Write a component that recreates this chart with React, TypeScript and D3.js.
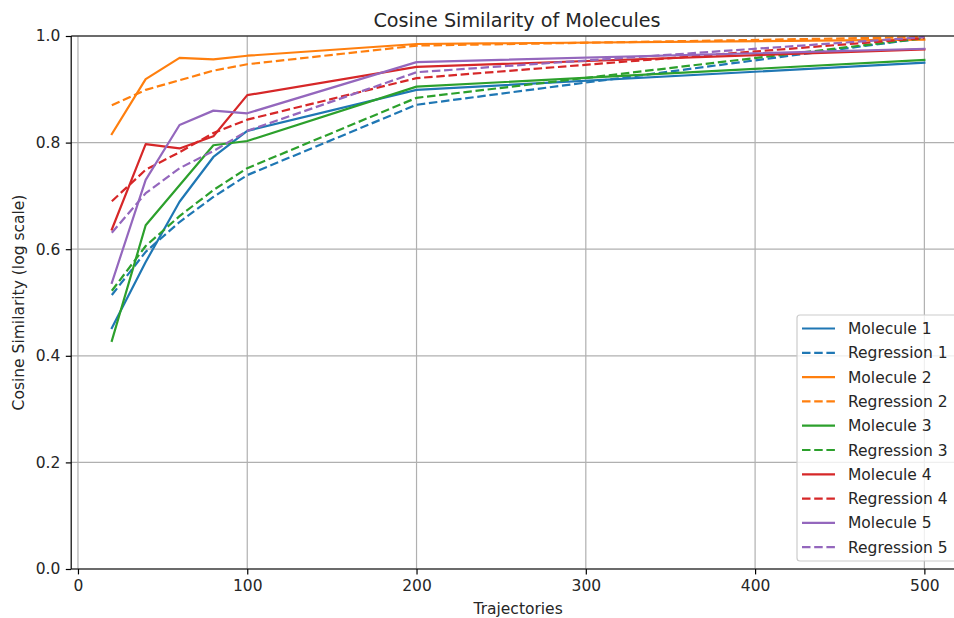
import React, { useRef, useEffect } from 'react';
import * as d3 from 'd3';

// number of trajectories (x) and the similarity values
const trajectories = [20, 40, 60, 80, 100, 200, 500];

const molecule1 = [0.452, 0.576, 0.689, 0.773, 0.822, 0.899, 0.950];
const regression1 = [0.514, 0.595, 0.651, 0.698, 0.739, 0.871, 0.996];
const molecule2 = [0.816, 0.919, 0.959, 0.956, 0.963, 0.985, 0.993];
const regression2 = [0.870, 0.899, 0.917, 0.935, 0.947, 0.982, 0.998];
const molecule3 = [0.428, 0.645, 0.720, 0.795, 0.803, 0.905, 0.955];
const regression3 = [0.522, 0.606, 0.662, 0.711, 0.752, 0.884, 0.996];
const molecule4 = [0.637, 0.797, 0.789, 0.812, 0.889, 0.942, 0.975];
const regression4 = [0.690, 0.749, 0.782, 0.818, 0.843, 0.921, 0.996];
const molecule5 = [0.537, 0.730, 0.833, 0.860, 0.855, 0.951, 0.976];
const regression5 = [0.631, 0.705, 0.752, 0.784, 0.822, 0.932, 0.998];

const xTicks = [0, 100, 200, 300, 400, 500];
const yTicks = [0.0, 0.2, 0.4, 0.6, 0.8, 1.0];

const colors = ['#1f77b4', '#ff7f0e', '#2ca02c', '#d62728', '#9467bd'];

const series = [
  { name: 'Molecule 1', values: molecule1, color: colors[0], dashed: false },
  { name: 'Regression 1', values: regression1, color: colors[0], dashed: true },
  { name: 'Molecule 2', values: molecule2, color: colors[1], dashed: false },
  { name: 'Regression 2', values: regression2, color: colors[1], dashed: true },
  { name: 'Molecule 3', values: molecule3, color: colors[2], dashed: false },
  { name: 'Regression 3', values: regression3, color: colors[2], dashed: true },
  { name: 'Molecule 4', values: molecule4, color: colors[3], dashed: false },
  { name: 'Regression 4', values: regression4, color: colors[3], dashed: true },
  { name: 'Molecule 5', values: molecule5, color: colors[4], dashed: false },
  { name: 'Regression 5', values: regression5, color: colors[4], dashed: true },
];

const App = () => {
  const ref = useRef<SVGSVGElement>(null);

  useEffect(() => {
    const width = 954;
    const height = 618;
    const left = 71.2, right = 965, top = 36, bottom = 569;
    const font = 'DejaVu Sans, sans-serif';
    const fs = 15.5;

    const svg = d3.select(ref.current);
    svg.selectAll('*').remove();
    svg.attr('width', width).attr('height', height);

    const x = d3.scaleLinear().domain([-4, 524]).range([left, right]);
    const y = d3.scaleLinear().domain([0, 1]).range([bottom, top]);

    svg.append('rect').attr('width', width).attr('height', height).attr('fill', 'white');

    svg.append('defs').append('clipPath').attr('id', 'plot')
      .append('rect')
      .attr('x', left).attr('y', top)
      .attr('width', right - left).attr('height', bottom - top);

    // grid
    const grid = svg.append('g').attr('stroke', '#b0b0b0').attr('stroke-width', 1.2);
    xTicks.forEach(t => {
      grid.append('line').attr('x1', x(t)).attr('x2', x(t)).attr('y1', top).attr('y2', bottom);
    });
    yTicks.forEach(t => {
      grid.append('line').attr('x1', left).attr('x2', right).attr('y1', y(t)).attr('y2', y(t));
    });

    // lines
    const line = d3.line<number>()
      .x((_, i) => x(trajectories[i]))
      .y(d => y(d));

    const plot = svg.append('g').attr('clip-path', 'url(#plot)');
    series.forEach(s => {
      plot.append('path')
        .datum(s.values)
        .attr('fill', 'none')
        .attr('stroke', s.color)
        .attr('stroke-width', 2.2)
        .attr('stroke-linecap', s.dashed ? 'butt' : 'square')
        .attr('stroke-linejoin', 'round')
        .attr('stroke-dasharray', s.dashed ? '8.5,3.7' : null)
        .attr('d', line);
    });

    // spines
    const spines = svg.append('g').attr('stroke', 'black').attr('stroke-width', 1.2);
    spines.append('line').attr('x1', left).attr('x2', left).attr('y1', top).attr('y2', bottom);
    spines.append('line').attr('x1', left).attr('x2', right).attr('y1', bottom).attr('y2', bottom);
    spines.append('line').attr('x1', left).attr('x2', right).attr('y1', top).attr('y2', top);

    // x axis
    const xAxis = d3.axisBottom(x).tickValues(xTicks).tickSize(5.4).tickPadding(5.4)
      .tickFormat(d3.format('d'));
    const gx = svg.append('g').attr('transform', `translate(0,${bottom})`).call(xAxis);
    gx.select('.domain').remove();
    gx.selectAll('line').attr('stroke', 'black').attr('stroke-width', 1.2);
    gx.selectAll('text').attr('font-family', font).attr('font-size', fs).attr('fill', '#262626');

    // y axis
    const yAxis = d3.axisLeft(y).tickValues(yTicks).tickSize(5.4).tickPadding(5.4)
      .tickFormat(d3.format('.1f'));
    const gy = svg.append('g').attr('transform', `translate(${left},0)`).call(yAxis);
    gy.select('.domain').remove();
    gy.selectAll('line').attr('stroke', 'black').attr('stroke-width', 1.2);
    gy.selectAll('text').attr('font-family', font).attr('font-size', fs).attr('fill', '#262626');

    // labels
    svg.append('text')
      .attr('x', 517).attr('y', 26.5)
      .attr('text-anchor', 'middle')
      .attr('font-family', font).attr('font-size', 19.2)
      .attr('fill', '#262626')
      .text('Cosine Similarity of Molecules');

    svg.append('text')
      .attr('x', (left + right) / 2).attr('y', 614)
      .attr('text-anchor', 'middle')
      .attr('font-family', font).attr('font-size', fs)
      .attr('fill', '#262626')
      .text('Trajectories');

    svg.append('text')
      .attr('transform', `translate(24,${(top + bottom) / 2}) rotate(-90)`)
      .attr('text-anchor', 'middle')
      .attr('font-family', font).attr('font-size', fs)
      .attr('fill', '#262626')
      .text('Cosine Similarity (log scale)');

    // legend
    const lx = 797, ly = 315, lw = 160, lh = 246, rowH = 24.3;
    const legend = svg.append('g');
    legend.append('rect')
      .attr('x', lx).attr('y', ly).attr('width', lw).attr('height', lh)
      .attr('rx', 3).attr('fill', 'white').attr('fill-opacity', 0.8)
      .attr('stroke', '#cccccc').attr('stroke-width', 1.2);
    series.forEach((s, i) => {
      const cy = ly + 13.5 + i * rowH;
      legend.append('line')
        .attr('x1', lx + 5).attr('x2', lx + 38)
        .attr('y1', cy).attr('y2', cy)
        .attr('stroke', s.color).attr('stroke-width', 2.2)
        .attr('stroke-dasharray', s.dashed ? '8.5,3.7' : null);
      legend.append('text')
        .attr('x', lx + 51).attr('y', cy)
        .attr('dy', '0.36em')
        .attr('font-family', font).attr('font-size', fs)
        .attr('fill', '#262626')
        .text(s.name);
    });
  }, []);

  return <svg ref={ref} style={{ position: 'absolute', left: 0, top: 0 }}></svg>;
};

export default App;
